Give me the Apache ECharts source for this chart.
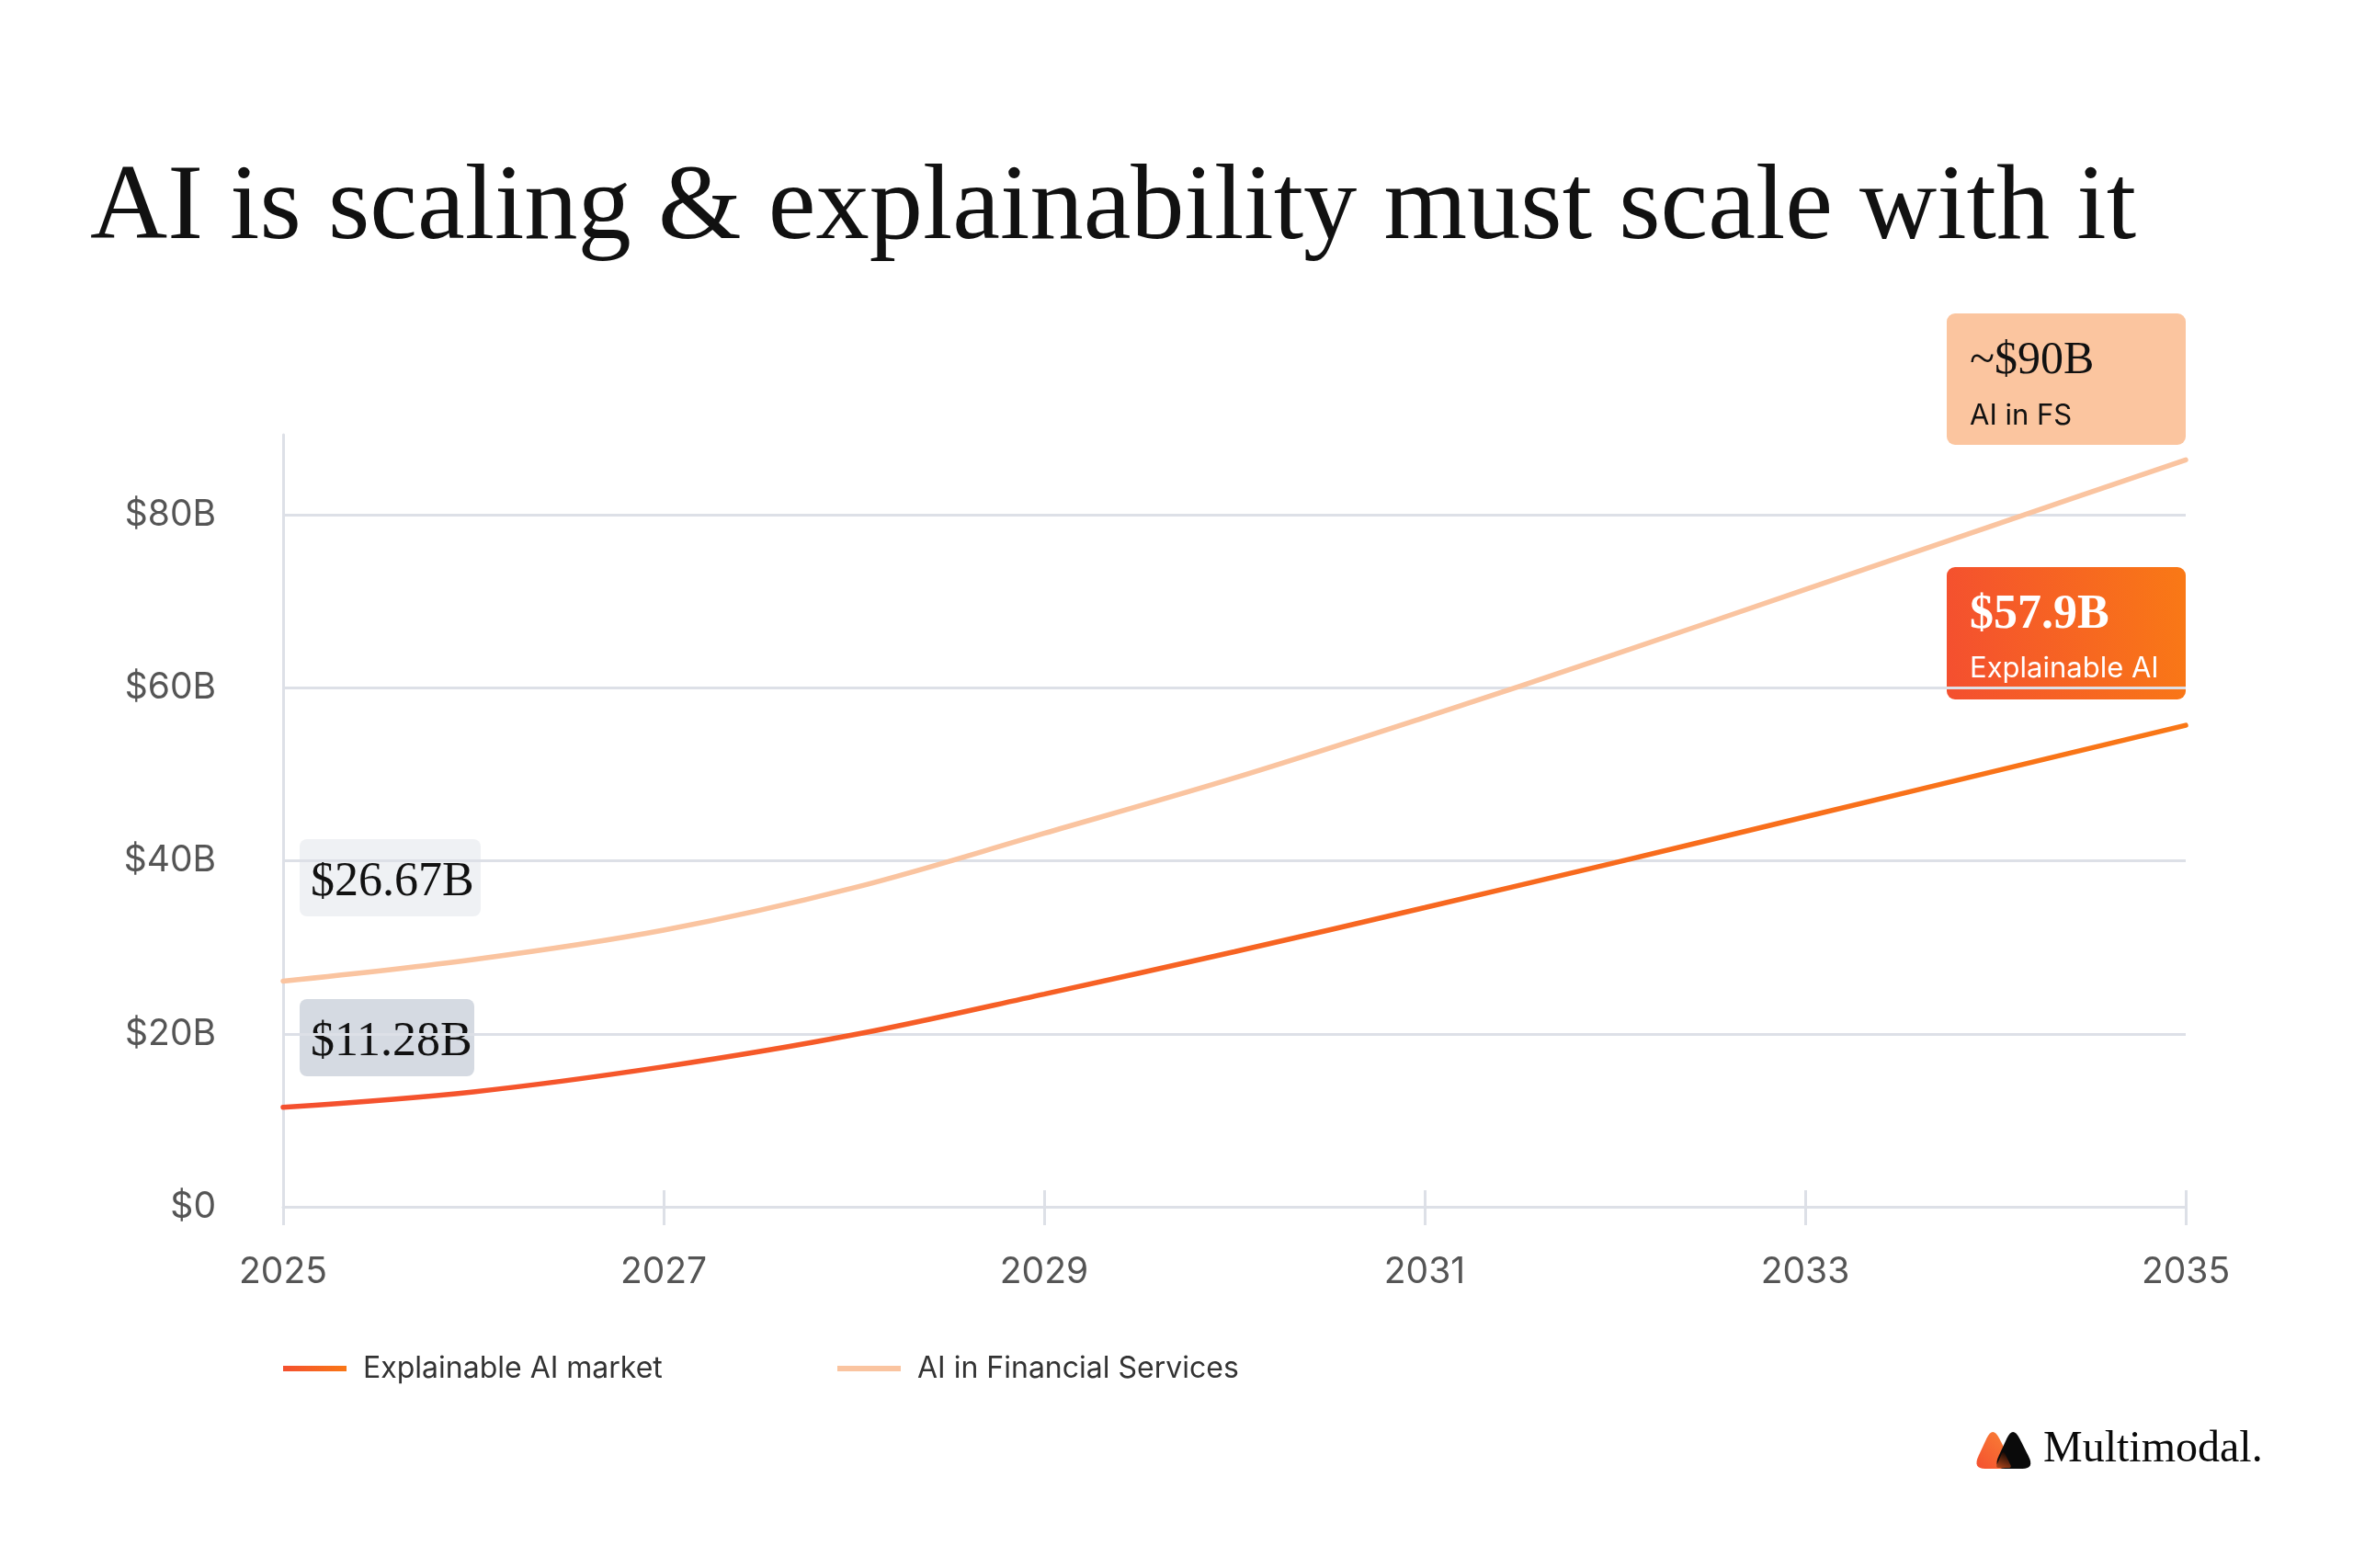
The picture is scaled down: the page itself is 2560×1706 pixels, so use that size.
<!DOCTYPE html>
<html>
<head>
<meta charset="utf-8">
<script src="https://cdn.jsdelivr.net/npm/echarts@6/dist/echarts.min.js"></script>
<style>
  html, body { margin: 0; padding: 0; background: #ffffff; }
  #chart { width: 2560px; height: 1706px; }
</style>
</head>
<body>
<div id="chart"></div>
<script>
// ---- data ----
const years = [2025, 2026, 2027, 2028, 2029, 2030, 2031, 2032, 2033, 2034, 2035];
const explainableAI = [11.5, 13.3, 16.2, 19.9, 24.6, 29.5, 34.6, 39.8, 45.1, 50.4, 55.7];
const aiInFS = [26.1, 28.6, 32.0, 36.9, 43.2, 49.6, 56.6, 63.9, 71.4, 78.9, 86.4];
const seriesNames = ['Explainable AI market', 'AI in Financial Services'];
const titleText = 'AI is scaling & explainability must scale with it';
const startLabels = ['$26.67B', '$11.28B'];
const endLabels = [['~$90B', 'AI in FS'], ['$57.9B', 'Explainable AI']];
const brandText = 'Multimodal.';

const SERIF = '"Liberation Serif", "DejaVu Serif", serif';
const SANS = 'Inter, "Noto Sans", sans-serif';
const GRID_C = '#DDE0E7';

const redOrange = () => new echarts.graphic.LinearGradient(0, 0, 1, 0, [
  { offset: 0, color: '#F4502F' }, { offset: 1, color: '#F97716' }
]);

// rounded triangle as a polygon point list (corners replaced by quadratic curves)
function roundTri(pts, t) {
  const out = [];
  const n = pts.length;
  for (let i = 0; i < n; i++) {
    const p = pts[i], pp = pts[(i + n - 1) % n], pn = pts[(i + 1) % n];
    const a = [p[0] + (pp[0] - p[0]) * t, p[1] + (pp[1] - p[1]) * t];
    const b = [p[0] + (pn[0] - p[0]) * t, p[1] + (pn[1] - p[1]) * t];
    for (let k = 0; k <= 8; k++) {
      const s = k / 8;
      const x = (1 - s) * (1 - s) * a[0] + 2 * (1 - s) * s * p[0] + s * s * b[0];
      const y = (1 - s) * (1 - s) * a[1] + 2 * (1 - s) * s * p[1] + s * s * b[1];
      out.push([x, y]);
    }
  }
  return out;
}

const chart = echarts.init(document.getElementById('chart'), null, { renderer: 'canvas' });

const legendText = { fontFamily: SANS, fontSize: 32, color: '#333333', padding: [0, 0, 0, 13], lineHeight: 40 };

const option = {
  backgroundColor: '#ffffff',
  animation: false,
  grid: { left: 308, right: 182, top: 473, bottom: 393, containLabel: false },
  xAxis: [{
    type: 'value', min: 2025, max: 2035, interval: 2,
    axisLine: { show: true, lineStyle: { color: GRID_C, width: 3 } },
    axisTick: { show: true, length: 20, lineStyle: { color: GRID_C, width: 3 } },
    splitLine: { show: false },
    axisLabel: { margin: 52, fontFamily: SANS, fontSize: 39, color: '#555555', formatter: v => String(v) }
  }, {
    type: 'value', min: 2025, max: 2035, interval: 2, position: 'bottom',
    axisLine: { show: false },
    axisTick: { show: true, inside: true, length: 18, lineStyle: { color: GRID_C, width: 3 } },
    splitLine: { show: false },
    axisLabel: { show: false }
  }],
  yAxis: {
    type: 'value', min: 0, max: 89.3, interval: 20,
    axisLine: { show: true, lineStyle: { color: GRID_C, width: 3 } },
    axisTick: { show: false },
    splitLine: { show: true, showMaxLine: false, lineStyle: { color: GRID_C, width: 3 } },
    axisLabel: {
      margin: 73, fontFamily: SANS, fontSize: 39, color: '#555555', showMaxLabel: false,
      formatter: v => v === 0 ? '$0' : '$' + v + 'B'
    }
  },
  legend: [{
    data: [{ name: seriesNames[0], itemStyle: { color: redOrange() } }],
    left: 308, top: 1469, padding: 0, icon: 'rect', itemWidth: 69, itemHeight: 6,
    textStyle: legendText, selectedMode: false
  }, {
    data: [{ name: seriesNames[1], itemStyle: { color: '#FAC4A0' } }],
    left: 911, top: 1469, padding: 0, icon: 'rect', itemWidth: 69, itemHeight: 6,
    textStyle: legendText, selectedMode: false
  }],
  series: [{
    name: seriesNames[1], type: 'line', xAxisIndex: 0,
    data: years.map((y, i) => [y, aiInFS[i]]),
    smooth: 0.35, showSymbol: false, symbol: 'none',
    lineStyle: { color: '#FAC4A0', width: 5.5, cap: 'round' },
    itemStyle: { color: '#FAC4A0' }, z: 3
  }, {
    name: seriesNames[0], type: 'line', xAxisIndex: 0,
    data: years.map((y, i) => [y, explainableAI[i]]),
    smooth: 0.35, showSymbol: false, symbol: 'none',
    lineStyle: { color: redOrange(), width: 5.5, cap: 'round' },
    itemStyle: { color: '#F4502F' }, z: 4
  }],
  graphic: [
    { type: 'text', x: 98, y: 228, style: { text: titleText, font: '116.5px ' + SERIF, fill: '#111111', verticalAlign: 'middle' } },
    // start labels
    { type: 'rect', shape: { x: 326, y: 913, width: 197, height: 84, r: 8 }, style: { fill: '#EFF1F4' } },
    { type: 'text', x: 338, y: 960, style: { text: startLabels[0], font: '52px ' + SERIF, fill: '#111111', verticalAlign: 'middle' } },
    { type: 'rect', shape: { x: 326, y: 1087, width: 190, height: 84, r: 8 }, style: { fill: '#D5DAE2' } },
    { type: 'text', x: 338, y: 1134, style: { text: startLabels[1], font: '52px ' + SERIF, fill: '#111111', verticalAlign: 'middle' } },
    // end labels
    { type: 'rect', shape: { x: 2118, y: 341, width: 260, height: 143, r: 9 }, style: { fill: '#FBC59F' } },
    { type: 'text', x: 2143, y: 393, style: { text: endLabels[0][0], font: '50px ' + SERIF, fill: '#111111', verticalAlign: 'middle' } },
    { type: 'text', x: 2143, y: 453, style: { text: endLabels[0][1], font: '31px ' + SANS, fill: '#111111', verticalAlign: 'middle' } },
    { type: 'rect', shape: { x: 2118, y: 617, width: 260, height: 144, r: 9 },
      style: { fill: new echarts.graphic.LinearGradient(0, 0.6, 1, 0.4, [{ offset: 0, color: '#F4502F' }, { offset: 1, color: '#F97816' }]) } },
    { type: 'text', x: 2143, y: 670, style: { text: endLabels[1][0], font: 'bold 52px ' + SERIF, fill: '#ffffff', verticalAlign: 'middle' } },
    { type: 'text', x: 2143, y: 728, style: { text: endLabels[1][1], font: '31px ' + SANS, fill: '#ffffff', verticalAlign: 'middle' } },
    // brand logo
    { type: 'polygon', shape: { points: roundTri([[2146, 1598], [2168, 1551], [2192, 1598]], 0.3) },
      style: { fill: new echarts.graphic.LinearGradient(0, 1, 1, 0, [{ offset: 0, color: '#F4502F' }, { offset: 1, color: '#F98236' }]) } },
    { type: 'polygon', shape: { points: roundTri([[2168, 1598], [2190, 1551], [2214, 1598]], 0.3) },
      style: { fill: '#0A0A0A' } },
    { type: 'polygon', shape: { points: roundTri([[2171, 1597], [2179.5, 1578], [2189, 1597]], 0.2) },
      style: { fill: new echarts.graphic.LinearGradient(0, 1, 0.5, 0, [{ offset: 0, color: '#B5481C' }, { offset: 1, color: '#1A0A04' }]) } },
    { type: 'text', x: 2223, y: 1577, style: { text: brandText, font: '48px ' + SERIF, fill: '#0A0A0A', verticalAlign: 'middle' } }
  ]
};
chart.setOption(option);
</script>
</body>
</html>
